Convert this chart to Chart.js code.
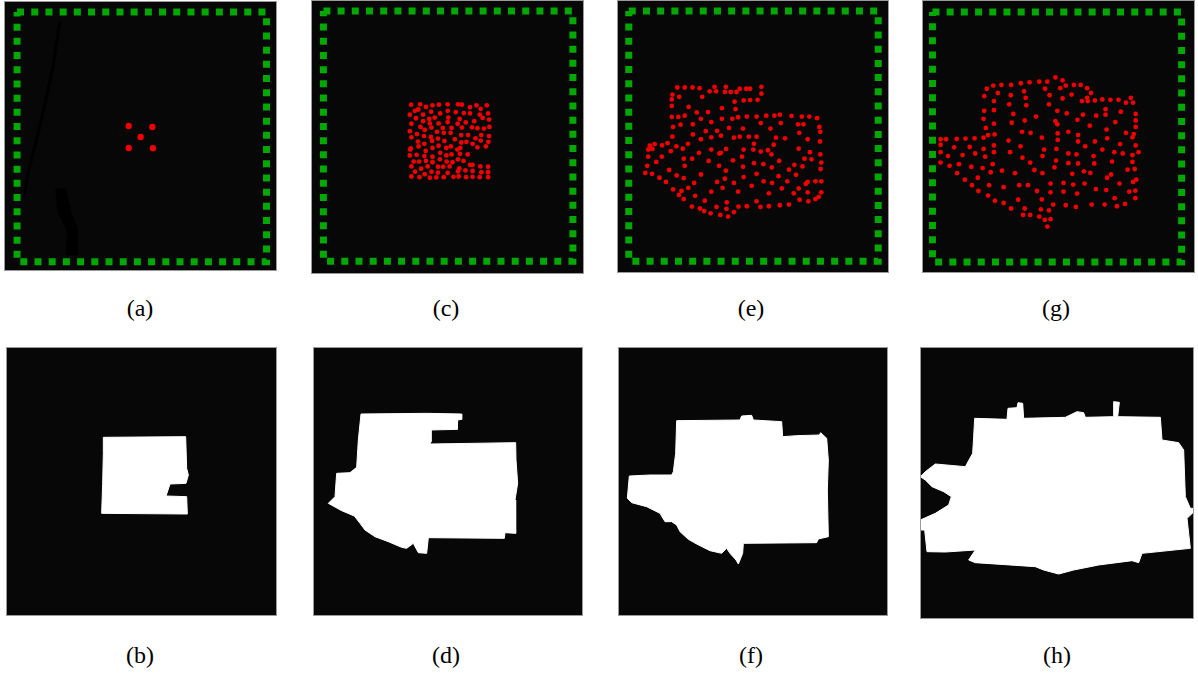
<!DOCTYPE html>
<html>
<head>
<meta charset="utf-8">
<script src="https://cdn.jsdelivr.net/npm/chart.js@4/dist/chart.umd.min.js"></script>
<style>
    body { margin: 0; background: #fff; width: 1198px; height: 677px; position: relative; overflow: hidden; }
    canvas { position: absolute; }
    .lbl { position: absolute; font-family: "Liberation Serif", "DejaVu Serif", serif; font-size: 24px; color: #000; transform: translate(-50%, -50%); white-space: nowrap; }
</style>
</head>
<body>
<canvas id="pa" width="273" height="270" style="left:4px;top:1px"></canvas>
<canvas id="pc" width="273" height="274" style="left:311px;top:0px"></canvas>
<canvas id="pe" width="272" height="273" style="left:617px;top:0px"></canvas>
<canvas id="pg" width="273" height="273" style="left:922px;top:0px"></canvas>
<canvas id="pb" width="271" height="269" style="left:6px;top:347px"></canvas>
<canvas id="pd" width="270" height="269" style="left:313px;top:347px"></canvas>
<canvas id="pf" width="270" height="269" style="left:618px;top:347px"></canvas>
<canvas id="ph" width="274" height="272" style="left:920px;top:347px"></canvas>

<div class="lbl" style="left:140px;top:308px">(a)</div>
<div class="lbl" style="left:446px;top:308px">(c)</div>
<div class="lbl" style="left:751px;top:308px">(e)</div>
<div class="lbl" style="left:1056px;top:308px">(g)</div>
<div class="lbl" style="left:140px;top:655px">(b)</div>
<div class="lbl" style="left:446px;top:655px">(d)</div>
<div class="lbl" style="left:751px;top:655px">(f)</div>
<div class="lbl" style="left:1057px;top:655px">(h)</div>

<script>
// All coordinates are image units (3x of the page pixel grid), y grows downward.

// Panel frames (green dashed border) – corners of each border path
const frameA = [[40, 25], [811, 25], [811, 797], [40, 797], [40, 25]];
const frameC = [[44, 22], [815, 22], [815, 795], [44, 795], [44, 22]];
const frameE = [[45, 22], [816, 22], [816, 795], [45, 795], [45, 22]];
const frameG = [[50, 25], [820, 25], [820, 797], [50, 797], [50, 25]];

// Red points
const dotsA = [[385, 377], [458, 380], [422, 411], [385, 445], [460, 446]];

const dotsC = [
    [315, 311], [343, 310], [361, 318], [381, 313], [401, 311], [428, 310], [460, 310], [472, 311], [497, 319], [517, 313], [549, 313],
    [327, 330], [337, 326], [352, 342], [377, 333], [405, 338], [428, 330], [453, 334], [478, 337], [497, 338], [530, 324], [527, 342], [553, 338], [311, 342],
    [330, 353], [352, 362], [371, 355], [388, 351], [430, 351], [465, 355], [510, 362], [536, 352], [556, 357], [400, 369], [373, 369],
    [316, 370], [344, 380], [357, 389], [378, 382], [413, 383], [440, 383], [459, 370], [484, 366], [503, 381], [520, 384], [540, 385], [557, 380], [428, 365],
    [311, 393], [333, 402], [355, 408], [376, 411], [395, 395], [416, 398], [437, 398], [470, 405], [491, 405], [532, 405], [556, 408], [472, 382],
    [316, 412], [336, 425], [356, 432], [380, 423], [398, 416], [418, 423], [450, 418], [470, 428], [486, 426], [514, 415], [530, 422], [554, 426],
    [314, 446], [338, 440], [360, 454], [381, 445], [400, 438], [424, 445], [438, 440], [458, 450], [467, 445], [505, 432], [520, 443], [546, 440],
    [311, 468], [332, 466], [356, 470], [381, 472], [405, 460], [424, 468], [440, 465], [466, 463], [490, 465], [312, 450],
    [323, 487], [340, 487], [361, 485], [381, 489], [404, 480], [425, 487], [443, 489], [460, 480], [477, 485], [497, 497],
    [316, 502], [346, 509], [366, 502], [398, 503], [414, 503], [434, 502], [464, 508], [483, 514], [505, 516], [529, 502], [553, 503],
    [327, 518], [357, 526], [378, 518], [398, 521], [428, 522], [460, 517], [532, 520], [553, 520], [505, 497],
    [316, 533], [341, 535], [373, 537], [393, 536], [416, 535], [446, 534], [462, 533], [485, 535], [505, 534], [527, 535], [553, 535]
];

const dotsE = [
    [195, 258], [218, 258], [242, 258], [264, 260], [310, 256], [345, 256], [420, 262], [455, 256], [295, 270], [315, 270], [342, 272], [360, 272], [378, 272], [388, 262], [408, 262],
    [180, 280], [201, 287], [272, 287], [455, 277], [443, 296], [420, 297], [400, 298], [372, 302], [178, 295], [178, 315],
    [230, 318], [255, 335], [290, 334], [333, 322], [375, 325], [178, 349], [198, 349], [218, 345], [268, 355], [300, 365], [333, 355], [365, 355], [383, 350], [410, 348], [440, 348], [470, 345], [495, 345], [512, 342], [548, 346], [580, 348], [603, 348], [627, 353],
    [182, 380], [205, 373], [243, 372], [283, 393], [318, 392], [355, 383], [398, 385], [453, 368], [483, 385], [515, 368], [568, 372], [585, 372], [634, 380], [637, 395],
    [180, 410], [243, 403], [300, 412], [330, 407], [370, 413], [388, 410], [416, 410], [440, 410], [500, 413], [528, 415], [572, 398],
    [110, 438], [125, 433], [148, 437], [165, 430], [192, 440], [228, 432], [268, 418], [493, 435], [598, 418], [636, 425],
    [105, 450], [118, 448], [175, 455], [212, 447], [262, 460], [300, 450], [330, 460], [346, 448], [400, 450], [432, 432], [453, 456], [486, 465], [570, 447], [605, 458],
    [105, 472], [147, 472], [215, 478], [241, 478], [292, 485], [325, 462], [367, 483], [395, 472], [430, 450], [475, 452], [510, 485], [588, 478], [610, 480], [637, 465], [640, 490],
    [102, 500], [130, 488], [170, 513], [218, 500], [324, 500], [345, 515], [398, 503], [432, 492], [461, 495], [487, 505], [540, 512], [557, 497], [582, 502], [638, 510],
    [96, 522], [117, 525], [140, 537], [193, 530], [215, 538], [268, 527], [342, 540], [400, 535], [440, 525], [508, 532], [562, 528], [622, 548], [640, 548], [592, 556],
    [160, 550], [247, 553], [318, 550], [370, 553], [462, 548], [488, 553], [535, 548], [570, 570], [598, 550],
    [182, 573], [208, 578], [229, 568], [300, 580], [335, 568], [383, 580], [425, 562], [478, 585], [518, 570], [555, 585], [598, 582], [640, 582], [632, 596],
    [200, 590], [215, 603], [250, 593], [280, 608], [348, 613], [384, 626], [410, 625], [440, 610], [452, 627], [478, 625], [512, 622], [540, 620], [573, 605], [600, 610], [622, 603],
    [240, 626], [265, 632], [278, 640], [298, 647], [316, 627], [328, 652], [347, 633], [352, 657], [370, 643]
];

const dotsG = [
    [218, 262], [238, 252], [263, 250], [293, 250], [323, 245], [350, 242], [380, 240], [405, 240], [430, 227], [452, 236], [445, 260], [462, 252], [487, 250], [508, 250], [528, 260], [540, 275],
    [528, 290], [552, 298], [575, 295], [600, 296], [625, 296], [648, 305], [663, 290], [670, 305],
    [210, 285], [240, 300], [252, 275], [292, 282], [333, 270], [338, 290], [398, 262], [412, 282], [452, 292], [480, 280], [512, 300], [530, 300],
    [210, 330], [240, 328], [287, 310], [300, 340], [340, 313], [370, 348], [410, 310], [436, 330], [465, 338], [498, 358], [515, 342], [556, 345], [585, 325], [585, 342], [632, 333], [678, 340],
    [208, 355], [240, 370], [295, 367], [335, 360], [430, 362], [436, 372], [536, 376], [615, 365], [678, 360], [678, 380],
    [215, 383], [222, 405], [242, 403], [327, 395], [353, 398], [388, 413], [437, 400], [470, 395], [500, 405], [588, 388], [648, 398], [668, 412], [672, 402],
    [75, 418], [92, 418], [125, 417], [152, 416], [180, 415], [208, 413], [285, 422], [322, 440], [437, 420], [500, 425], [552, 425], [590, 415], [630, 433], [678, 437],
    [75, 435], [117, 443], [165, 442], [208, 448], [240, 437], [395, 450], [433, 448], [522, 440], [575, 450], [612, 458], [638, 462], [687, 458],
    [75, 458], [98, 470], [143, 467], [182, 462], [213, 472], [240, 458], [290, 458], [328, 475], [390, 470], [470, 462], [495, 465], [548, 470], [668, 467],
    [75, 490], [103, 500], [132, 495], [170, 503], [205, 507], [236, 495], [352, 490], [432, 484], [470, 492], [500, 493], [550, 493], [605, 487], [668, 488],
    [126, 523], [150, 543], [190, 537], [230, 520], [265, 515], [305, 523], [365, 513], [390, 523], [427, 505], [482, 525], [518, 517], [538, 522], [602, 527], [653, 512], [675, 510], [680, 543],
    [172, 560], [225, 560], [270, 566], [318, 560], [345, 560], [415, 555], [455, 553], [485, 558], [520, 555], [590, 537], [628, 555], [670, 550],
    [192, 578], [222, 592], [243, 608], [270, 615], [293, 632], [315, 605], [373, 578], [388, 604], [415, 582], [455, 580], [497, 586], [555, 572], [587, 575], [658, 580], [677, 577],
    [335, 632], [385, 635], [410, 638], [423, 620], [462, 622], [493, 627], [542, 620], [582, 620], [613, 600], [620, 625], [645, 618], [677, 600],
    [330, 652], [352, 652], [380, 657], [397, 667], [415, 665], [405, 688]
];

// Faint dark strokes in panel (a)
const streakA = [[172, 55], [150, 200], [110, 380], [75, 520], [60, 600]];
const blobA = [[160, 572], [190, 572], [205, 640], [225, 690], [225, 775], [192, 775], [195, 700], [165, 640], [160, 572]];

// White region outlines
const shapeB = [
    [310, 292], [557, 290], [560, 385], [565, 405], [558, 430], [510, 432], [498, 468], [560, 470],
    [562, 522], [305, 520], [308, 430], [310, 340], [310, 292]
];

const shapeD = [
    [168, 222], [365, 220], [470, 222], [470, 238], [458, 240], [457, 268], [378, 270], [378, 305], [375, 312],
    [632, 308], [633, 360], [638, 430], [630, 480], [632, 580], [600, 578], [598, 595], [370, 593], [365, 640],
    [340, 638], [325, 610], [305, 625], [290, 622], [250, 605], [210, 590], [180, 570], [165, 550], [148, 528],
    [110, 512], [70, 490], [90, 470], [95, 400], [135, 398], [155, 382], [160, 300], [168, 222]
];

const shapeF = [
    [200, 242], [390, 240], [395, 228], [425, 226], [430, 240], [515, 245], [518, 290], [560, 287], [628, 285],
    [632, 278], [650, 295], [655, 360], [652, 450], [655, 590], [625, 597], [620, 608], [400, 610], [398, 640],
    [390, 660], [385, 672], [378, 660], [360, 640], [350, 625], [335, 640], [300, 632], [260, 612], [235, 598],
    [210, 575], [200, 555], [185, 545], [165, 545], [150, 520], [110, 500], [65, 488], [52, 475], [58, 408],
    [120, 405], [185, 405], [190, 395], [197, 340], [200, 242]
];

const shapeH = [
    [188, 235], [285, 238], [288, 205], [315, 203], [318, 188], [332, 190], [335, 235], [460, 232], [495, 215],
    [515, 218], [520, 232], [605, 230], [605, 185], [622, 187], [617, 230], [745, 232], [750, 300], [800, 308],
    [815, 330], [820, 470], [835, 505], [846, 505], [846, 515], [825, 535], [835, 625], [690, 640], [680, 668],
    [660, 662], [560, 675], [485, 690], [440, 702], [395, 690], [370, 680], [190, 668], [170, 660], [190, 630],
    [100, 636], [45, 635], [38, 570], [25, 570], [25, 540], [70, 520], [110, 495], [118, 470], [95, 455],
    [60, 440], [40, 420], [25, 410], [40, 395], [70, 372], [160, 380], [182, 340], [185, 290], [188, 235]
];

const pts = arr => arr.map(p => ({ x: p[0], y: p[1] }));

const backdropPlugin = {
    id: 'backdrop',
    beforeDraw: (chart) => {
        const ctx = chart.ctx;
        ctx.save();
        ctx.fillStyle = '#070707';
        ctx.fillRect(0, 0, chart.width, chart.height);
        ctx.restore();
    },
    afterDraw: (chart) => {
        const ctx = chart.ctx;
        ctx.save();
        ctx.strokeStyle = '#9a9a9a';
        ctx.lineWidth = 1;
        ctx.strokeRect(0.5, 0.5, chart.width - 1, chart.height - 1);
        ctx.restore();
    }
};

function frameSet(corners) {
    return {
        data: pts(corners),
        showLine: true,
        borderColor: '#00a800',
        borderWidth: 7,
        borderDash: [7, 7.2],
        pointRadius: 0,
        fill: false,
        order: 3
    };
}

function dotSet(list, radius) {
    return {
        data: pts(list),
        backgroundColor: '#f00000',
        borderColor: '#f00000',
        borderWidth: 0,
        pointRadius: radius,
        pointStyle: 'circle',
        order: 1
    };
}

function shapeSet(outline, color) {
    return {
        data: pts(outline),
        showLine: true,
        borderColor: color,
        backgroundColor: color,
        borderWidth: 1,
        pointRadius: 0,
        tension: 0,
        fill: 'shape',
        order: 2
    };
}

function makePanel(id, xRange, yRange, datasets) {
    return new Chart(document.getElementById(id), {
        type: 'scatter',
        data: { datasets: datasets },
        options: {
            responsive: false,
            animation: false,
            events: [],
            layout: { padding: 0 },
            plugins: {
                legend: { display: false },
                tooltip: { enabled: false }
            },
            scales: {
                x: { type: 'linear', display: false, min: xRange[0], max: xRange[1] },
                y: { type: 'linear', display: false, min: yRange[0], max: yRange[1], reverse: true }
            }
        },
        plugins: [backdropPlugin]
    });
}

// Top row: point layouts
makePanel('pa', [12, 831], [3, 813], [
    dotSet(dotsA, 3.2),
    shapeSet(blobA, '#000000'),
    { data: pts(streakA), showLine: true, borderColor: '#000000', borderWidth: 3, pointRadius: 0, order: 2 },
    frameSet(frameA)
]);
makePanel('pc', [18, 837], [0, 822], [dotSet(dotsC, 2.4), frameSet(frameC)]);
makePanel('pe', [21, 837], [0, 819], [dotSet(dotsE, 2.4), frameSet(frameE)]);
makePanel('pg', [30, 849], [0, 819], [dotSet(dotsG, 2.4), frameSet(frameG)]);

// Bottom row: covered regions
makePanel('pb', [18, 831], [21, 828], [shapeSet(shapeB, '#ffffff')]);
makePanel('pd', [24, 834], [21, 828], [shapeSet(shapeD, '#ffffff')]);
makePanel('pf', [24, 834], [21, 828], [shapeSet(shapeF, '#ffffff')]);
makePanel('ph', [24, 846], [21, 837], [shapeSet(shapeH, '#ffffff')]);
</script>
</body>
</html>
